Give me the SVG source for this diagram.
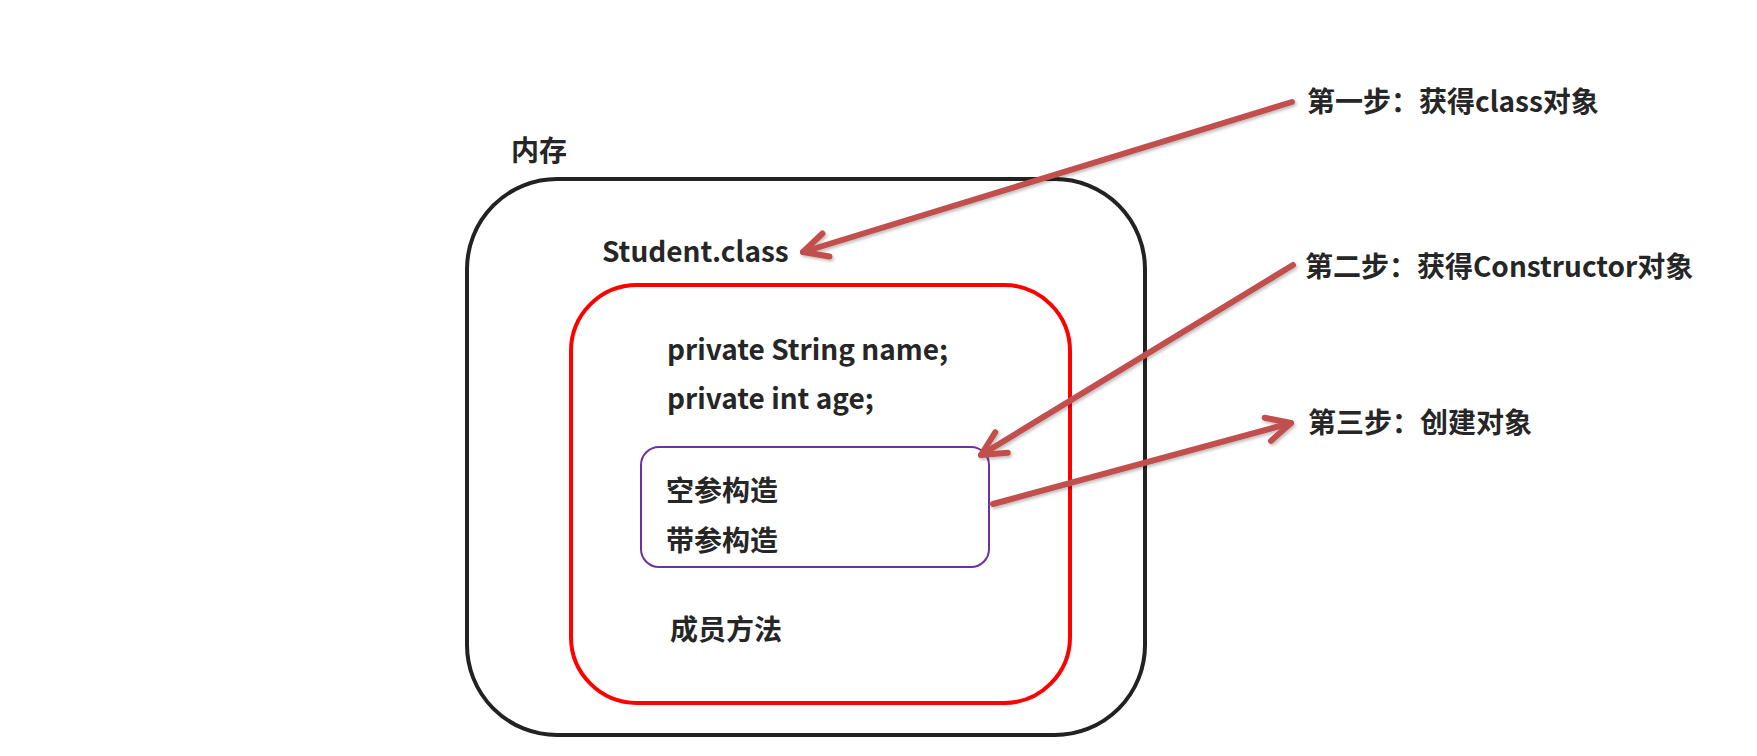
<svg xmlns="http://www.w3.org/2000/svg" width="1757" height="756" viewBox="0 0 1757 756">
<style>
text{font-family:"Noto Sans CJK SC","Noto Sans",sans-serif;font-weight:bold;font-size:28px;fill:#262626}
.arrow{fill:none;stroke:#c0504d;stroke-width:6;stroke-linecap:round;marker-end:url(#ah)}
</style>
<defs>
<filter id="sh" x="-10%" y="-10%" width="120%" height="120%">
<feDropShadow dx="1.5" dy="2" stdDeviation="1.5" flood-color="#000" flood-opacity="0.25"/>
</filter>
<marker id="ah" markerUnits="userSpaceOnUse" orient="auto" viewBox="-32 -20 40 40" markerWidth="40" markerHeight="40" refX="0" refY="0" overflow="visible">
<path d="M-24,-12 L0,0 L-24,12" fill="none" stroke="#c0504d" stroke-width="6" stroke-linecap="round" stroke-linejoin="round"/>
</marker>
</defs>
<rect width="1757" height="756" fill="#ffffff"/>
<g id="memory">
<rect x="467" y="179" width="678" height="556" rx="90" ry="90" fill="none" stroke="#222222" stroke-width="4"/>
<text x="511" y="161">内存</text>
<text x="602" y="262">Student.class</text>
</g>
<g id="class-body">
<rect x="571" y="285" width="499" height="418" rx="66" ry="66" fill="none" stroke="#ff0000" stroke-width="4"/>
<text x="667" y="360">private String name;</text>
<text x="667" y="409">private int age;</text>
<text x="670" y="640">成员方法</text>
</g>
<g id="constructors">
<rect x="641" y="447" width="348" height="120" rx="18" ry="18" fill="none" stroke="#7030a0" stroke-width="2"/>
<text x="666" y="501">空参构造</text>
<text x="666" y="551">带参构造</text>
</g>
<g id="step1"><text x="1307" y="112">第一步：获得class对象</text></g>
<g id="step2"><text x="1305" y="277">第二步：获得Constructor对象</text></g>
<g id="step3"><text x="1308" y="433">第三步：创建对象</text></g>
<g id="connectors" filter="url(#sh)">
<path class="arrow" d="M1292,102 L803,252"/>
<path class="arrow" d="M1293,265 L981,455"/>
<path class="arrow" d="M993,504 L1291,423"/>
</g>
</svg>
